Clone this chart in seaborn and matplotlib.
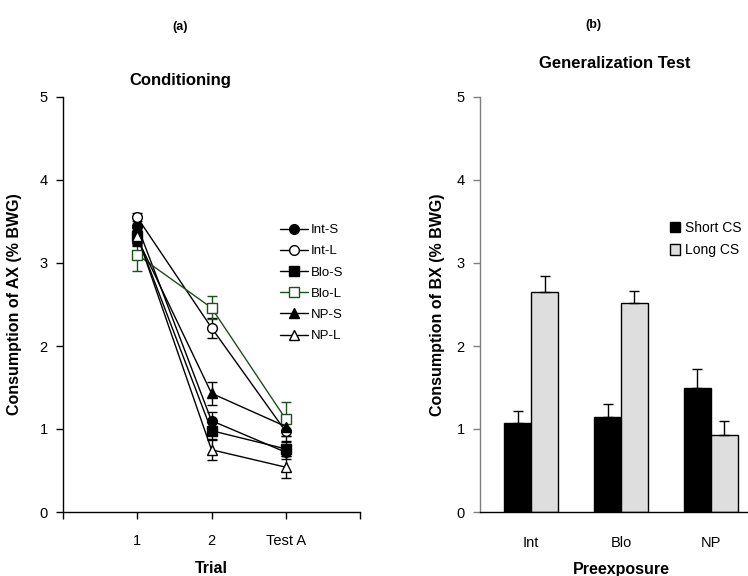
import numpy as np
import pandas as pd
import matplotlib
matplotlib.use("Agg")
import matplotlib.pyplot as plt
import seaborn as sns
from matplotlib.patches import Patch

# --- DATA ---
TRIALS = ["1", "2", "Test A"]
GROUPS = ["Int-S", "Int-L", "Blo-S", "Blo-L", "NP-S", "NP-L"]
INT_S = [3.45, 1.10, 0.72]
INT_L = [3.55, 2.22, 0.97]
BLO_S = [3.32, 0.98, 0.76]
BLO_L = [3.10, 2.46, 1.12]
NP_S = [3.30, 1.43, 1.03]
NP_L = [3.33, 0.75, 0.54]
INT_S_ERR = [0.10, 0.10, 0.08]
INT_L_ERR = [0.05, 0.12, 0.12]
BLO_S_ERR = [0.10, 0.10, 0.08]
BLO_L_ERR = [0.20, 0.14, 0.20]
NP_S_ERR = [0.10, 0.14, 0.12]
NP_L_ERR = [0.10, 0.12, 0.13]

PREEXPOSURE = ["Int", "Blo", "NP"]
CS_TYPES = ["Short CS", "Long CS"]
SHORT = [1.07, 1.14, 1.50]
LONG = [2.65, 2.52, 0.93]
SHORT_ERR = [0.15, 0.16, 0.22]
LONG_ERR = [0.19, 0.14, 0.17]

# --- STYLE ---
sns.set_theme(style="white")
plt.rcParams["font.family"] = ["Liberation Sans", "DejaVu Sans"]
plt.rcParams["text.color"] = "black"
plt.rcParams["axes.labelcolor"] = "black"
plt.rcParams["xtick.color"] = "black"
plt.rcParams["ytick.color"] = "black"
GREEN = "#1f4f1f"

# marker, filled, colour for each group
STYLES = {
    "Int-S": ("o", True, "black"),
    "Int-L": ("o", False, "black"),
    "Blo-S": ("s", True, "black"),
    "Blo-L": ("s", False, GREEN),
    "NP-S": ("^", True, "black"),
    "NP-L": ("^", False, "black"),
}

W, H = 748, 576
fig = plt.figure(figsize=(W / 100, H / 100), dpi=100)


def px_axes(x0, x1, y_top, y_bot):
    return fig.add_axes([x0 / W, (H - y_bot) / H, (x1 - x0) / W, (y_bot - y_top) / H])


def style_axes(ax, spine_color="black"):
    for s in ["top", "right"]:
        ax.spines[s].set_visible(False)
    ax.spines["left"].set_color(spine_color)
    ax.spines["bottom"].set_color("black")
    for s in ["left", "bottom"]:
        ax.spines[s].set_linewidth(1.0)
    ax.set_ylim(0, 5)
    ax.set_yticks(range(6))
    ax.tick_params(axis="y", direction="out", length=5, width=1, color=spine_color,
                   labelcolor="black", pad=6, labelsize=10.5, left=True)


# --- (a) Conditioning ---
ax1 = px_axes(63, 360, 97, 512)
values = [INT_S, INT_L, BLO_S, BLO_L, NP_S, NP_L]
errors = [INT_S_ERR, INT_L_ERR, BLO_S_ERR, BLO_L_ERR, NP_S_ERR, NP_L_ERR]
pos = np.arange(1, len(TRIALS) + 1)
for name, vals, errs in zip(GROUPS, values, errors):
    marker, filled, col = STYLES[name]
    ax1.errorbar(pos, vals, yerr=errs, fmt="none", ecolor=col, elinewidth=1,
                 capsize=3.5, capthick=1, zorder=2)
    sns.lineplot(x=pos, y=vals, marker=marker, color=col, linewidth=1,
                 markersize=7 if marker != "^" else 7.5,
                 markerfacecolor=col if filled else "white",
                 markeredgecolor=col, markeredgewidth=1,
                 label=name, ax=ax1, zorder=3)
style_axes(ax1)
ax1.set_xlim(0, len(TRIALS) + 1)
ax1.set_xticks(range(len(TRIALS) + 2))
ax1.set_xticklabels([""] + TRIALS + [""])
ax1.tick_params(axis="x", direction="out", length=5, width=1, color="black",
                pad=11, labelsize=10.5, bottom=True)
ax1.set_xlabel("Trial", fontsize=11.5, fontweight="bold", labelpad=9)
ax1.set_ylabel("Consumption of AX (% BWG)", fontsize=11.5, fontweight="bold")
ax1.yaxis.set_label_coords(-0.138, 0.5)
ax1.legend(loc="upper left", bbox_to_anchor=(280 / W, 1 - 224 / H),
           bbox_transform=fig.transFigure, frameon=False, fontsize=9.5,
           handlelength=2.1, handletextpad=0.25, labelspacing=0.68,
           borderpad=0, borderaxespad=0)

# --- (b) Generalization Test ---
ax2 = px_axes(480, 762, 97, 512)
bars = pd.DataFrame({
    "Preexposure": PREEXPOSURE * 2,
    "CS": [CS_TYPES[0]] * 3 + [CS_TYPES[1]] * 3,
    "value": SHORT + LONG,
})
sns.barplot(data=bars, x="Preexposure", y="value", hue="CS", order=PREEXPOSURE,
            hue_order=CS_TYPES, palette=["black", "#dedede"], width=0.6,
            edgecolor="black", linewidth=1, errorbar=None, saturation=1,
            legend=False, ax=ax2)
errs = SHORT_ERR + LONG_ERR
for patch, err in zip(ax2.patches, errs):
    xc = patch.get_x() + patch.get_width() / 2
    top = patch.get_height()
    ax2.errorbar([xc], [top], yerr=[[0], [err]], fmt="none", ecolor="black",
                 elinewidth=1, capsize=3.5, capthick=1, zorder=1)
style_axes(ax2, spine_color="#7f7f7f")
ax2.set_xlim(-0.57, 2.57)
ax2.tick_params(axis="x", length=0, pad=17, labelsize=10.5)
ax2.set_xlabel("Preexposure", fontsize=11.5, fontweight="bold", labelpad=9)
ax2.set_ylabel("Consumption of BX (% BWG)", fontsize=11.5, fontweight="bold")
ax2.yaxis.set_label_coords(-0.124, 0.5)
handles = [Patch(facecolor=c, edgecolor="black", linewidth=1) for c in ["black", "#dedede"]]
ax2.legend(handles, CS_TYPES, loc="upper left", bbox_to_anchor=(670 / W, 1 - 221 / H),
           bbox_transform=fig.transFigure, frameon=False, fontsize=10,
           handlelength=0.75, handleheight=0.75, handletextpad=0.3,
           labelspacing=0.6, borderpad=0, borderaxespad=0)

# --- titles ---
fig.text(180 / W, 1 - 27 / H, "(a)", ha="center", va="center", fontsize=9, fontweight="bold")
fig.text(180 / W, 1 - 80 / H, "Conditioning", ha="center", va="center", fontsize=12, fontweight="bold")
fig.text(593 / W, 1 - 25 / H, "(b)", ha="center", va="center", fontsize=9, fontweight="bold")
fig.text(615 / W, 1 - 64 / H, "Generalization Test", ha="center", va="center", fontsize=12, fontweight="bold")

fig.savefig("out.png", dpi=100)
